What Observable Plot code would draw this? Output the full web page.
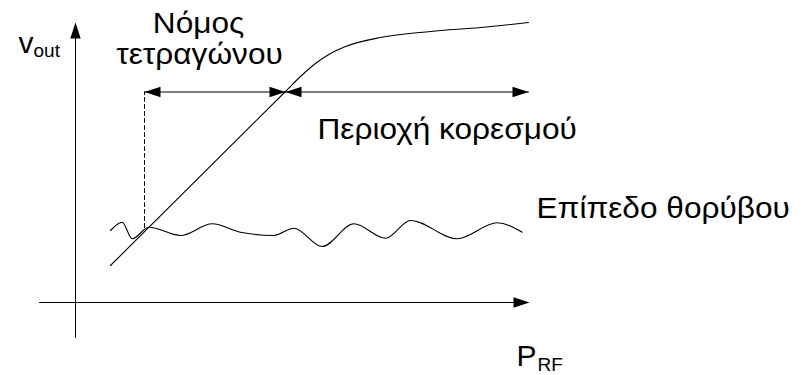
<!DOCTYPE html>
<html>
<head>
<meta charset="utf-8">
<script src="https://cdn.jsdelivr.net/npm/d3@7"></script>
<script src="https://cdn.jsdelivr.net/npm/@observablehq/plot@0.6"></script>
<style>
  html, body { margin: 0; padding: 0; background: #fff; }
  #chart svg { display: block; }
</style>
</head>
<body>
<div id="chart"></div>
<script>
// Units: arbitrary (P_RF on x, v_out on y); origin at the axis crossing.
// Axes
const xAxisX = [-3.6, 45.4];
const yAxisY = [-3.5, 28.0];

// Detector response: square-law (straight) region then saturation
const responseX = [3.5, 21.0, 22.5, 24.0, 25.5, 27.0, 30.5, 35.5, 40.5, 45.3];
const responseY = [3.7, 21.1, 22.6, 23.9, 24.9, 25.6, 26.5, 27.1, 27.5, 28.0];

// Noise floor
const noiseX = [3.5, 4.67, 5.67, 7.33, 10.5, 13.67, 16.5, 19.83, 21.83, 24.67, 27.83, 31.0, 33.5, 38.17, 42.17, 44.67];
const noiseY = [7.2, 8.03, 6.37, 7.53, 6.7, 7.87, 7.03, 6.7, 7.43, 5.6, 7.87, 6.43, 8.2, 6.37, 7.97, 7.03];

// Dashed marker at the start of the square-law region
const markerX = 6.9;
const markerY = [7.5, 21.05];

// Dimension arrows
const arrowLevel = 21.05;
const squareLawSpan = [6.9, 21.0];
const saturationSpan = [21.0, 45.3];

// Labels
const centerTexts = ["Νόμος", "τετραγώνου"];
const centerX = [12.3, 12.4];
const centerY = [27.0, 23.9];
const startTexts = ["Περιοχή κορεσμού", "Επίπεδο θορύβου"];
const startX = [24.2, 46.1];
const startY = [16.4, 8.5];

const axisLabelMain = ["v", "P"];
const axisLabelSub = ["out", "RF"];
const axisMainX = [-5.7, 44.1];
const axisMainY = [25.0, -6.3];
const axisSubX = [-4.2, 46.2];
const axisSubY = [24.6, -6.8];

// --- build tables ---
const response = responseX.map((x, i) => ({x, y: responseY[i]}));
const noise = noiseX.map((x, i) => ({x, y: noiseY[i]}));
const centerLabels = centerTexts.map((t, i) => ({t, x: centerX[i], y: centerY[i]}));
const startLabels = startTexts.map((t, i) => ({t, x: startX[i], y: startY[i]}));
const mains = axisLabelMain.map((t, i) => ({t, x: axisMainX[i], y: axisMainY[i]}));
const subs = axisLabelSub.map((t, i) => ({t, x: axisSubX[i], y: axisSubY[i]}));

const heads = [
  {x: 0, y: yAxisY[1], angle: 0},
  {x: xAxisX[1], y: 0, angle: 90},
  {x: squareLawSpan[0], y: arrowLevel, angle: -90},
  {x: squareLawSpan[1], y: arrowLevel, angle: 90},
  {x: saturationSpan[0], y: arrowLevel, angle: -90},
  {x: saturationSpan[1], y: arrowLevel, angle: 90}
];

// Filled, elongated arrowhead with its tip at the anchor, pointing up (rotated by channel)
const arrowHead = {
  draw(context, size) {
    const L = 16, W = 5.2;
    context.moveTo(0, 0);
    context.lineTo(W, L);
    context.lineTo(-W, L);
    context.closePath();
  }
};

const font = "Liberation Sans, Arial, Helvetica, sans-serif";

const chart = Plot.plot({
  width: 802,
  height: 375,
  margin: 0,
  x: {domain: [-7.5, 72.7], axis: null},
  y: {domain: [-7.3, 30.2], axis: null},
  style: {fontFamily: font, background: "#fff", color: "#000"},
  marks: [
    // axes
    Plot.line([{x: xAxisX[0], y: 0}, {x: xAxisX[1] - 1, y: 0}], {x: "x", y: "y", stroke: "#000", strokeWidth: 1}),
    Plot.line([{x: 0, y: yAxisY[0]}, {x: 0, y: yAxisY[1] - 1}], {x: "x", y: "y", stroke: "#000", strokeWidth: 1}),
    // dashed marker
    Plot.line([{x: markerX, y: markerY[0]}, {x: markerX, y: markerY[1]}], {x: "x", y: "y", stroke: "#000", strokeWidth: 1, strokeDasharray: "4,3"}),
    // dimension arrows shafts
    Plot.line([{x: squareLawSpan[0], y: arrowLevel}, {x: saturationSpan[1], y: arrowLevel}], {x: "x", y: "y", stroke: "#000", strokeWidth: 1}),
    // noise floor
    Plot.line(noise, {x: "x", y: "y", curve: "monotone-x", stroke: "#000", strokeWidth: 1.1}),
    // response
    Plot.line(response, {x: "x", y: "y", curve: "monotone-x", stroke: "#000", strokeWidth: 1.1}),
    // arrowheads
    Plot.dot(heads, {x: "x", y: "y", rotate: "angle", symbol: arrowHead, r: 5, fill: "#000", stroke: "none"}),
    // labels (the first two text groups are stretched below)
    Plot.text(centerLabels, {x: "x", y: "y", text: "t", textAnchor: "middle", lineAnchor: "bottom", fontSize: 29, fill: "#000"}),
    Plot.text(startLabels, {x: "x", y: "y", text: "t", textAnchor: "start", lineAnchor: "bottom", fontSize: 29, fill: "#000"}),
    Plot.text(mains, {x: "x", y: "y", text: "t", textAnchor: "start", lineAnchor: "bottom", fontSize: 30, fill: "#000"}),
    Plot.text(subs, {x: "x", y: "y", text: "t", textAnchor: "start", lineAnchor: "bottom", fontSize: 19, fill: "#000"})
  ]
});
document.getElementById("chart").appendChild(chart);

// The reference lettering is slightly wider than Liberation Sans: stretch horizontally.
const stretch = 1.09;
const textGroups = chart.querySelectorAll('g[aria-label="text"]');
[textGroups[0], textGroups[1]].forEach((g) => {
  if (!g) return;
  g.querySelectorAll("text").forEach((t) => {
    const w = t.getComputedTextLength();
    t.setAttribute("textLength", (w * stretch).toFixed(1));
    t.setAttribute("lengthAdjust", "spacingAndGlyphs");
  });
});
</script>
</body>
</html>
